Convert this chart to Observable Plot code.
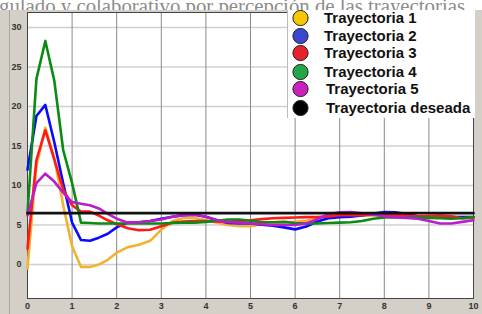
<!DOCTYPE html>
<html>
<head>
<meta charset="utf-8">
<script src="https://cdn.jsdelivr.net/npm/d3@7"></script>
<script src="https://cdn.jsdelivr.net/npm/@observablehq/plot@0.6"></script>
<style>
  html, body { margin: 0; padding: 0; background: #ffffff; }
  #wrap { position: relative; width: 482px; height: 314px; overflow: hidden; background: #d4d0c8; }
  #title { position: absolute; left: 0; top: 0; width: 482px; height: 10px; background: #fff; overflow: hidden; }
  #chart { position: absolute; left: 0; top: 0; }
  #legend { position: absolute; left: 287px; top: 10px; width: 188px; height: 108px; background: #fff;
            border-left: 1px solid #bbb; box-sizing: border-box; }
</style>
</head>
<body>
<div id="wrap">
  <div id="chart"></div>
  <svg id="title" width="482" height="10"></svg>
  <svg id="legend" width="188" height="108"></svg>
</div>
<script>
const titleText = "gulado y colaborativo por percepción de las trayectorias";
const seriesNames = ["Trayectoria 1", "Trayectoria 2", "Trayectoria 3", "Trayectoria 4", "Trayectoria 5", "Trayectoria deseada"];
const lineColors = ["#f2b230", "#0a0aff", "#ff1a1a", "#0b8a14", "#bc1ccc", "#111111"];
const legendColors = ["#f7c600", "#3c46d0", "#e8202a", "#22a64a", "#cc1fc0", "#000000"];
const xTicks = [0, 1, 2, 3, 4, 5, 6, 7, 8, 9, 10];
const yTicks = [0, 5, 10, 15, 20, 25, 30];

const t = [0, 0.2, 0.4, 0.6, 0.8, 1.0, 1.2, 1.4, 1.6, 1.8, 2.0, 2.25, 2.5, 2.75, 3.0, 3.25, 3.5, 3.75,
  4.0, 4.25, 4.5, 4.75, 5.0, 5.25, 5.5, 5.75, 6.0, 6.25, 6.5, 6.75, 7.0, 7.25, 7.5, 7.75,
  8.0, 8.25, 8.5, 8.75, 9.0, 9.25, 9.5, 9.75, 10];

const tray1 = [-0.5, 12.5, 17.3, 13.5, 7.5, 2.3, -0.3, -0.3, 0.0, 0.6, 1.5, 2.2, 2.5, 3.0, 4.4, 5.5, 5.9, 5.9,
  5.6, 5.3, 5.0, 4.85, 4.85, 5.1, 5.3, 5.35, 5.4, 5.55, 5.8, 6.0, 6.2, 6.2, 6.2, 6.2,
  6.2, 6.2, 6.15, 6.1, 6.0, 6.0, 6.0, 6.0, 6.0];
const tray2 = [12.0, 18.8, 20.2, 15.5, 10.3, 5.3, 3.1, 3.0, 3.4, 3.9, 4.7, 5.3, 5.35, 5.5, 5.8, 6.05, 6.25, 6.3,
  6.05, 5.6, 5.25, 5.2, 5.2, 5.05, 4.9, 4.7, 4.45, 4.8, 5.45, 5.85, 6.0, 6.05, 6.2, 6.45,
  6.65, 6.6, 6.4, 6.1, 6.0, 6.0, 6.0, 6.0, 6.0];
const tray3 = [2.0, 13.2, 17.0, 13.3, 9.5, 7.5, 6.7, 6.7, 6.2, 5.6, 5.1, 4.6, 4.35, 4.4, 4.85, 5.3, 5.45, 5.5,
  5.5, 5.45, 5.4, 5.5, 5.6, 5.75, 5.85, 5.9, 5.95, 6.0, 6.0, 6.1, 6.25, 6.25, 6.25, 6.3,
  6.35, 6.3, 6.2, 6.1, 6.15, 6.2, 6.1, 5.85, 5.9];
const tray4 = [6.5, 23.5, 28.3, 23.3, 14.5, 10.3, 5.3, 5.25, 5.2, 5.2, 5.2, 5.2, 5.2, 5.2, 5.2, 5.25, 5.3, 5.3,
  5.4, 5.55, 5.7, 5.7, 5.55, 5.35, 5.35, 5.4, 5.25, 5.2, 5.2, 5.25, 5.3, 5.35, 5.5, 5.8,
  5.95, 5.95, 5.95, 5.95, 5.9, 5.85, 5.8, 5.85, 6.0];
const tray5 = [6.2, 10.3, 11.5, 10.5, 9.1, 7.9, 7.7, 7.5, 7.1, 6.4, 5.8, 5.3, 5.35, 5.5, 5.7, 6.05, 6.25, 6.3,
  6.05, 5.6, 5.35, 5.3, 5.2, 5.1, 5.0, 5.0, 5.0, 5.2, 5.75, 6.4, 6.6, 6.65, 6.5, 6.3,
  6.1, 6.0, 5.9, 5.8, 5.5, 5.2, 5.2, 5.4, 5.6];
const desiredT = [0, 10];
const desired = [6.5, 6.5];

const allSeries = [tray1, tray2, tray3, tray4, tray5];
const rows = [];
allSeries.forEach((vals, i) => vals.forEach((v, j) => rows.push({ t: t[j], v, s: seriesNames[i] })));
desired.forEach((v, j) => rows.push({ t: desiredT[j], v, s: seriesNames[5] }));

const chart = Plot.plot({
  width: 482,
  height: 314,
  marginLeft: 27,
  marginRight: 9,
  marginTop: 12,
  marginBottom: 16,
  style: { background: "transparent", fontFamily: "Liberation Sans, Arial, sans-serif" },
  x: { domain: [0, 10] },
  y: { domain: [-4.3, 31.9] },
  color: { domain: seriesNames, range: lineColors },
  marks: [
    Plot.frame({ fill: "#ffffff", stroke: "none" }),
    Plot.ruleY(yTicks, { stroke: "#d0d0d0", strokeWidth: 1.6 }),
    Plot.ruleX(xTicks.slice(1, -1), { stroke: "#8a8a8a", strokeWidth: 1 }),
    Plot.frame({ stroke: "#444", strokeWidth: 1 }),
    Plot.axisX({ ticks: xTicks, tickSize: 0, tickPadding: 4, fontSize: 9, fontWeight: "bold", fill: "#333", label: null }),
    Plot.axisY({ ticks: yTicks, tickSize: 0, tickPadding: 6, fontSize: 9, fontWeight: "bold", fill: "#333", label: null }),
    Plot.line(rows, { x: "t", y: "v", z: "s", stroke: "s", strokeWidth: 2.6, strokeLinejoin: "round" }),
  ]
});
document.getElementById("chart").appendChild(chart);

// left frame line of the figure window
d3.select(chart).append("line")
  .attr("x1", 9.5).attr("x2", 9.5).attr("y1", 10).attr("y2", 314)
  .attr("stroke", "#aaa59c").attr("stroke-width", 1);

// cut-off title
d3.select("#title").append("text")
  .attr("x", -1).attr("y", 12.5)
  .attr("font-family", "Liberation Serif, Times New Roman, serif")
  .attr("font-size", 20.8)
  .attr("fill", "#8c8c8c")
  .text(titleText);

// legend
const lg = d3.select("#legend");
const rowY = [8, 26, 43, 62, 79, 98];
seriesNames.forEach((name, i) => {
  lg.append("circle").attr("cx", 12.5).attr("cy", rowY[i]).attr("r", 7.6)
    .attr("fill", legendColors[i]).attr("stroke", "#222").attr("stroke-width", 1);
  lg.append("text").attr("x", i >= 4 ? 38 : 36).attr("y", rowY[i]).attr("dy", "0.36em")
    .attr("font-family", "Liberation Sans, Arial, sans-serif").attr("font-weight", "bold")
    .attr("font-size", 15).attr("fill", "#111").text(name);
});
</script>
</body>
</html>
